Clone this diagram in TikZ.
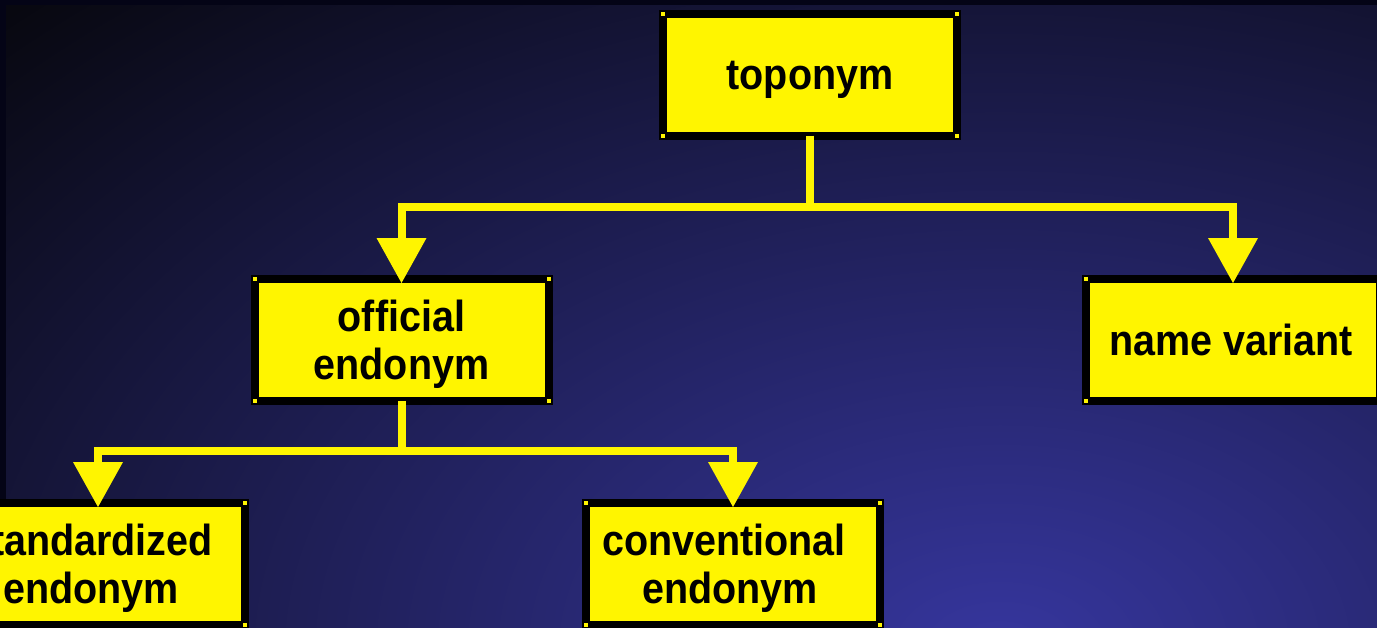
\documentclass[tikz,border=0pt]{standalone}
\usepackage{fontspec}
\setsansfont{Liberation Sans}
\usepackage{graphicx}
\usetikzlibrary{arrows.meta}
\definecolor{boxyellow}{RGB}{255,245,0}
\definecolor{bginner}{RGB}{54,54,158}
\definecolor{bgouter}{RGB}{8,8,16}
\definecolor{edgecol}{RGB}{4,4,22}
\newcommand\boxlbl[2][0pt]{\hspace*{#1}\raisebox{-6pt}[\height][\depth]{\scalebox{1}[1.1]{\begin{tabular}{@{}c@{}}#2\end{tabular}}}}
\begin{document}
\begin{tikzpicture}[x=1pt,y=-1pt,
  treebox/.style={draw=black, line width=8pt, fill=boxyellow,
    minimum width=294pt, minimum height=122pt, inner sep=0pt, outer sep=0pt,
    font=\sffamily\bfseries\fontsize{39.5}{43}\selectfont, text=black},
  conn/.style={draw=boxyellow, line width=8pt,
    -{Triangle[length=45pt 0 0,width=50pt 0 0,line width=0pt]}, shorten >=-4pt}]
\useasboundingbox (0,0) rectangle (1377,627);
\clip (0,0) rectangle (1377,627);
\fill[bgouter] (0,0) rectangle (1377,627);
\shade[inner color=bginner, outer color=bgouter] (-400,-250) rectangle (2400,1550);
\fill[edgecol] (0,0) rectangle (1377,5);
\fill[edgecol] (0,0) rectangle (6,627);

\node[treebox] (top) at (810,74.5) {\boxlbl{toponym}};
\node[treebox] (off) at (401.5,340) {\boxlbl{official\\endonym}};
\node[treebox] (nv) at (1233,340) {\boxlbl[-4pt]{name variant}};
\node[treebox] (std) at (98,564) {\boxlbl[-14pt]{standardized\\endonym}};
\node[treebox] (conv) at (733,564) {\boxlbl[-6pt]{conventional\hspace{12pt}\null\\endonym}};

\foreach \n in {top,off,nv,std,conv}
  \foreach \a in {north west,north east,south west,south east}
    \fill[boxyellow] (\n.\a) ++(-2,-2) rectangle ++(4,4);

\coordinate (j1) at (810,207);
\coordinate (j2) at (401.5,451);
\draw[conn] (top.south) -- (j1) -| (off.north);
\draw[conn] (j1) -| (nv.north);
\draw[conn] (off.south) -- (j2) -| (std.north);
\draw[conn] (j2) -| (conv.north);
\end{tikzpicture}
\end{document}
